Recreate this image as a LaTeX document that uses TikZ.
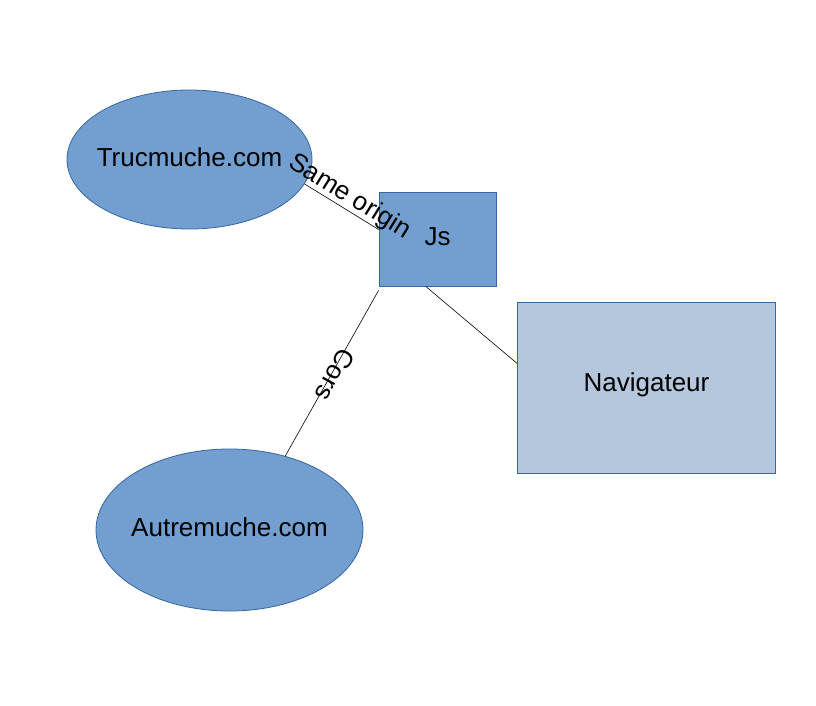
\documentclass[tikz,border=0pt]{standalone}
\usepackage{fontspec}
\setmainfont{Liberation Sans}
\usetikzlibrary{shapes.geometric,calc}
\definecolor{fillA}{RGB}{114,159,207}
\definecolor{fillB}{RGB}{180,199,220}
\definecolor{edgeA}{RGB}{52,101,164}
\newcommand{\uptext}[1]{\raisebox{2.5pt}[\height][\depth]{#1}}
\tikzset{
  site/.style={ellipse, draw=edgeA, fill=fillA, line width=0.8pt, inner sep=0pt},
  boxA/.style={rectangle, draw=edgeA, fill=fillA, line width=0.8pt, inner sep=0pt},
  boxB/.style={rectangle, draw=edgeA, fill=fillB, line width=0.8pt, inner sep=0pt},
  link/.style={draw=black, line width=0.6pt},
  lbl/.style={inner sep=0pt, font=\fontsize{26}{30}\selectfont}
}
\begin{document}
\begin{tikzpicture}[x=1pt,y=-1pt,font=\fontsize{26}{30}\selectfont]
\useasboundingbox (0,0) rectangle (816,706);
\node[site, minimum width=245pt, minimum height=139pt] (t) at (189.5,159.5) {\makebox[0pt]{\uptext{Trucmuche.com}}};
\node[boxA, minimum width=117pt, minimum height=94pt] (j) at (437.5,239) {\uptext{Js}};
\node[boxB, minimum width=258pt, minimum height=171pt] (n) at (646.5,387.5) {\uptext{Navigateur}};
\node[site, minimum width=267pt, minimum height=162pt] (a) at (229.5,530) {\makebox[0pt]{\uptext{Autremuche.com}}};
\draw[link] (t.-12) -- node[lbl, pos=0.52, sloped, anchor=south] (so) {Same origin} ($(j.north west)!0.4!(j.south west)$);
\draw[link] ([yshift=-4pt]j.south west) -- node[lbl, pos=0.51, xshift=4pt, rotate=-119] (co) {Cors} (a.53);
\draw[link] ($(j.south west)!0.4!(j.south east)$) -- ($(n.north west)!0.36!(n.south west)$);
\end{tikzpicture}
\end{document}
